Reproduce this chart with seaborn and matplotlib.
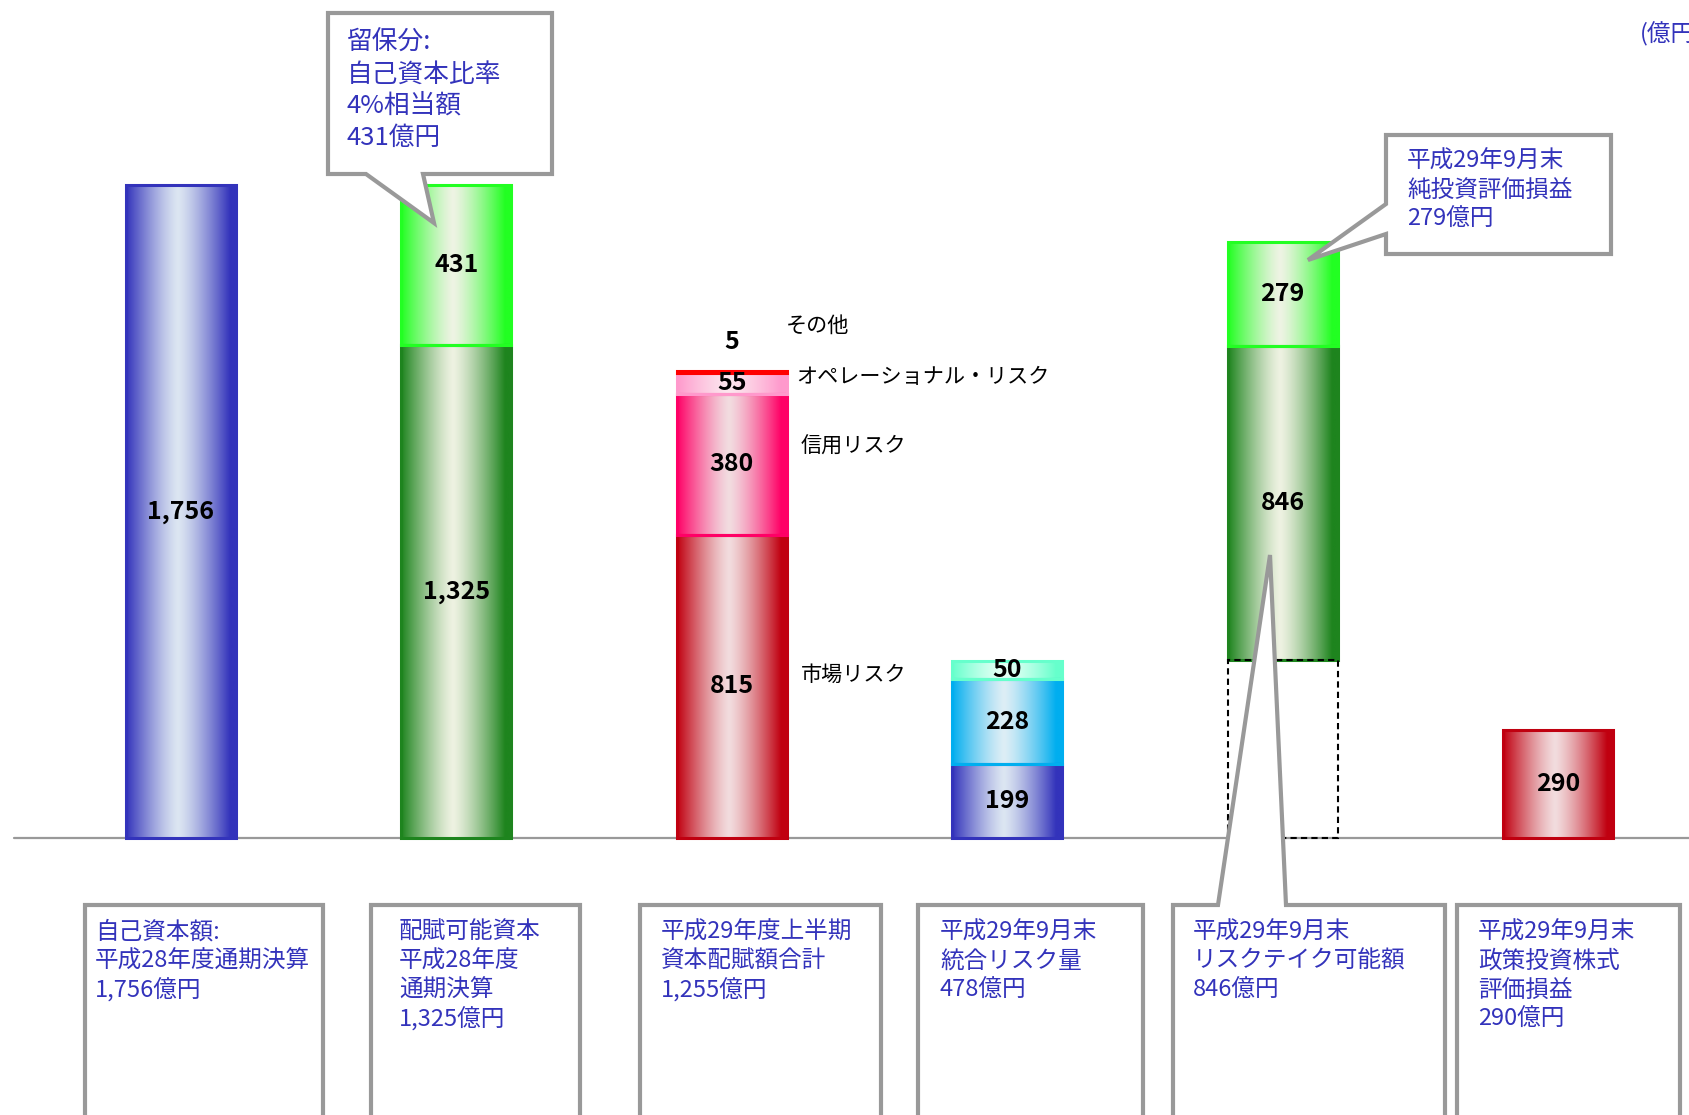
import matplotlib
matplotlib.use("Agg")
import matplotlib.pyplot as plt
import matplotlib.colors as mcolors
from matplotlib import font_manager
import numpy as np
import pandas as pd
import seaborn as sns

# data
categories = ["自己資本額", "配賦可能資本", "資本配賦額合計", "統合リスク量", "リスクテイク可能額", "政策投資株式"]
seg_values = [1756, 1325, 431, 815, 380, 55, 5, 199, 228, 50, 846, 279, 290]
seg_cat = [0, 1, 1, 2, 2, 2, 2, 3, 3, 3, 4, 4, 5]
seg_labels = ["1,756", "1,325", "431", "815", "380", "55", "5", "199", "228", "50", "846", "279", "290"]
# bar 5 floats on top of the integrated risk amount
float_base = {4: 478}

risk_names = ["市場リスク", "信用リスク", "オペレーショナル・リスク", "その他"]

bottom_texts = [
    ["自己資本額:", "平成28年度通期決算", "1,756億円"],
    ["配賦可能資本", "平成28年度", "通期決算", "1,325億円"],
    ["平成29年度上半期", "資本配賦額合計", "1,255億円"],
    ["平成29年9月末", "統合リスク量", "478億円"],
    ["平成29年9月末", "リスクテイク可能額", "846億円"],
    ["平成29年9月末", "政策投資株式", "評価損益", "290億円"],
]
callout_top1 = ["留保分:", "自己資本比率", "4%相当額", "431億円"]
callout_top2 = ["平成29年9月末", "純投資評価損益", "279億円"]
unit_text = "(億円)"

# (edge colour, centre colour) per segment
seg_colors = [
    ("#3333BB", "#DCE6F2"),
    ("#1E841E", "#EEF2E2"),
    ("#22FF22", "#EEF3E4"),
    ("#C00010", "#F2DCDE"),
    ("#FF0066", "#F2DCE0"),
    ("#FF99CC", "#FCE6EE"),
    ("#FF0000", "#FF0000"),
    ("#3333BB", "#DCE6F2"),
    ("#00AEEF", "#DDEEF6"),
    ("#66FFCC", "#E6FFF6"),
    ("#1E841E", "#EEF2E2"),
    ("#22FF22", "#EEF3E4"),
    ("#C00010", "#F2DCDE"),
]

df = pd.DataFrame({"cat": seg_cat, "value": seg_values, "label": seg_labels})
df["bottom"] = 0.0
for c in df["cat"].unique():
    idx = df.index[df["cat"] == c]
    base = float_base.get(c, 0)
    df.loc[idx, "bottom"] = base + df.loc[idx, "value"].cumsum().shift(fill_value=0)

sns.set_theme(style="white")
plt.rcParams["font.family"] = ["Noto Sans CJK JP", "DejaVu Sans"]

installed = {f.name for f in font_manager.fontManager.ttflist}
if "Liberation Sans Narrow" in installed:
    num_family, num_size = ["Liberation Sans Narrow"], 22
else:
    num_family, num_size = ["Noto Sans CJK JP"], 18

W, H = 1690, 1115
fig = plt.figure(figsize=(W / 100, H / 100), dpi=100)
ax = fig.add_axes([0, 0, 1, 1])
ax.set_axis_off()

# pixel <-> data mapping
x0px, dxpx = 181.0, 275.4
y0px, sy = 838.0, 653.0 / 1756.0
xlim = (-x0px / dxpx, (W - x0px) / dxpx)
ylim = (-(H - y0px) / sy, y0px / sy)


def px(x):
    return (x - x0px) / dxpx


def py(y):
    return (y0px - y) / sy


bar_w = 0.40
blue = "#3333BB"

for i, r in df.iterrows():
    edge, centre = seg_colors[i]
    bars = ax.bar(r["cat"], r["value"], bottom=r["bottom"], width=bar_w,
                  facecolor="none", edgecolor=edge, linewidth=2.2, zorder=4)
    p = bars.patches[0]
    xb, yb, wb, hb = p.get_x(), p.get_y(), p.get_width(), p.get_height()
    t = np.linspace(0, 1, 200)
    prof = np.clip(np.abs(t - 0.47) / 0.47, 0, 1) ** 1.3
    c1 = np.array(mcolors.to_rgb(edge))
    c2 = np.array(mcolors.to_rgb(centre))
    img = c2[None, :] * (1 - prof[:, None]) + c1[None, :] * prof[:, None]
    ax.imshow(img[None, :, :], extent=[xb, xb + wb, yb, yb + hb],
              aspect="auto", zorder=3, interpolation="bilinear")

    lab = r["label"]
    if lab == "5":
        ly = r["bottom"] + 84
    else:
        ly = r["bottom"] + r["value"] / 2
    ax.text(r["cat"], ly, lab, ha="center", va="center", fontsize=num_size,
            fontweight="bold", color="black", family=num_family, zorder=6)

# dashed outline under the floating bar
ax.bar(4, float_base[4], width=bar_w, facecolor="none", edgecolor="black",
       linestyle=(0, (3, 2)), linewidth=1.5, zorder=4)

# baseline
ax.axhline(0, xmin=14 / W, xmax=1, color="#999999", linewidth=1.6, zorder=2)

# risk names beside bar 3
for name, (tx, ty) in zip(risk_names, [(801, 675), (801, 447), (796, 377), (786, 326)]):
    ax.text(px(tx), py(ty), name, ha="left", va="center", fontsize=15.2,
            color="black", zorder=6)

ax.text(px(1640), py(34), unit_text, ha="left", va="center", fontsize=17,
        color=blue, zorder=6)

gray = "#999999"


def poly(points, z=7):
    pts = [(px(a), py(b)) for a, b in points]
    ax.add_patch(plt.Polygon(pts, closed=True, facecolor="white",
                             edgecolor=gray, linewidth=3, zorder=z))


def lines(x, y, rows, step, size):
    for k, s in enumerate(rows):
        ax.text(px(x), py(y + k * step), s, ha="left", va="center",
                fontsize=size, color=blue, zorder=8)


# top callouts
poly([(328, 13), (552, 13), (552, 174), (423, 174), (434, 223), (366, 174), (328, 174)])
lines(347, 43, callout_top1, 31.5, 18.5)

poly([(1386, 135), (1611, 135), (1611, 254), (1386, 254), (1386, 234), (1308, 260), (1386, 204)])
lines(1407, 161, callout_top2, 29, 17)

# bottom description boxes
boxes = [(85, 323), (371, 580), (640, 881), (918, 1143), (1173, 1445), (1457, 1680)]
text_x = [95, 399, 661, 940, 1193, 1478]
for k, (l, rr) in enumerate(boxes):
    if k == 4:
        poly([(l, 905), (1218, 905), (1270, 555), (1286, 905), (rr, 905), (rr, 1125), (l, 1125)])
    else:
        poly([(l, 905), (rr, 905), (rr, 1125), (l, 1125)])
    lines(text_x[k], 932, bottom_texts[k], 29, 17)

ax.set_xlim(*xlim)
ax.set_ylim(*ylim)

fig.savefig("out.png", dpi=100, facecolor="white")
